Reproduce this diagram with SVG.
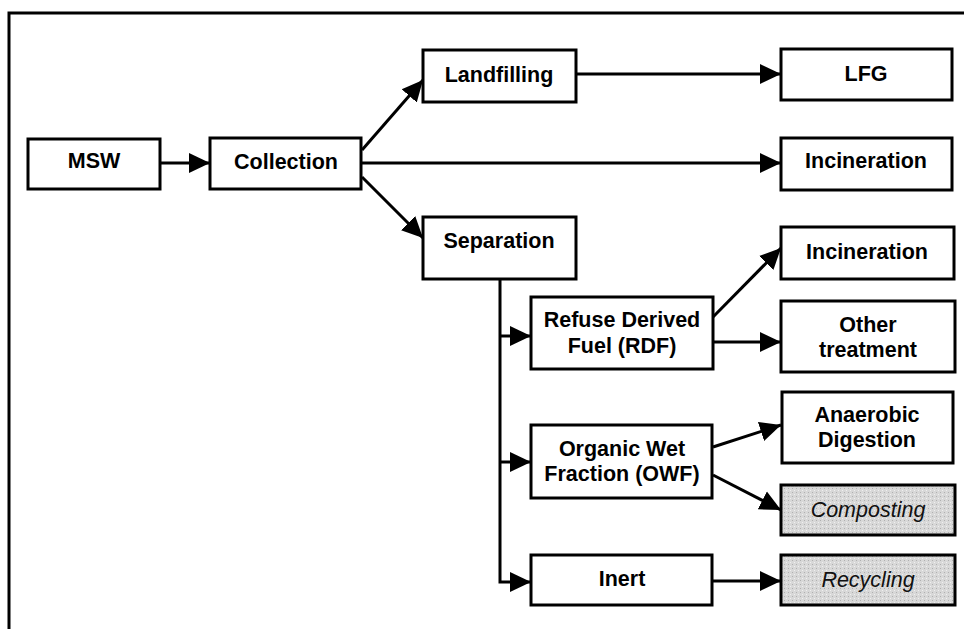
<svg xmlns="http://www.w3.org/2000/svg" width="964" height="629" viewBox="0 0 964 629">
<defs>
<style>
.box{fill:#fff;stroke:#000;stroke-width:3}
.grey{fill:url(#stip);stroke:#000;stroke-width:3}
.t{font-family:"Liberation Sans",Arial,sans-serif;font-size:21.5px;font-weight:bold;text-anchor:middle;fill:#000}
.ti{font-family:"Liberation Sans",Arial,sans-serif;font-size:21.5px;font-style:italic;text-anchor:middle;fill:#111}
.c{fill:none;stroke:#000;stroke-width:3}
.frame{fill:none;stroke:#000;stroke-width:3}
</style>
<marker id="ah" markerUnits="userSpaceOnUse" markerWidth="22" markerHeight="22" refX="21" refY="10" orient="auto" viewBox="0 0 22 20">
<path d="M0,0 L21,10 L0,20 z" fill="#000"/>
</marker>
<pattern id="stip" width="4" height="4" patternUnits="userSpaceOnUse">
<rect width="4" height="4" fill="#d8d8d8"/>
<rect x="0" y="0" width="1" height="1" fill="#b0b0b0"/>
<rect x="2" y="2" width="1" height="1" fill="#f0f0f0"/>
</pattern>
</defs>
<rect width="964" height="629" fill="#fff"/>
<path class="frame" d="M9,629 L9,13 L964,13"/>

<g id="connectors">
<line class="c" x1="160" y1="163" x2="210" y2="163" marker-end="url(#ah)"/>
<line class="c" x1="362" y1="150" x2="423" y2="80" marker-end="url(#ah)"/>
<line class="c" x1="362" y1="163" x2="781" y2="163" marker-end="url(#ah)"/>
<line class="c" x1="362" y1="177" x2="423" y2="238" marker-end="url(#ah)"/>
<line class="c" x1="576" y1="74" x2="781" y2="74" marker-end="url(#ah)"/>
<polyline class="c" points="500,279 500,582 531,582" marker-end="url(#ah)"/>
<line class="c" x1="500" y1="336" x2="531" y2="336" marker-end="url(#ah)"/>
<line class="c" x1="500" y1="462" x2="531" y2="462" marker-end="url(#ah)"/>
<line class="c" x1="713" y1="317" x2="781" y2="248" marker-end="url(#ah)"/>
<line class="c" x1="713" y1="342" x2="781" y2="342" marker-end="url(#ah)"/>
<line class="c" x1="713" y1="447" x2="781" y2="425" marker-end="url(#ah)"/>
<line class="c" x1="713" y1="475" x2="781" y2="510" marker-end="url(#ah)"/>
<line class="c" x1="712" y1="581" x2="781" y2="581" marker-end="url(#ah)"/>
</g>

<g id="msw"><rect class="box" x="28" y="139" width="132" height="50"/><text class="t" x="94" y="168">MSW</text></g>
<g id="collection"><rect class="box" x="210" y="138" width="151" height="51"/><text class="t" x="286" y="169">Collection</text></g>
<g id="landfilling"><rect class="box" x="423" y="50" width="153" height="52"/><text class="t" x="499" y="82">Landfilling</text></g>
<g id="separation"><rect class="box" x="423" y="217" width="153" height="62"/><text class="t" x="499" y="248">Separation</text></g>
<g id="lfg"><rect class="box" x="781" y="49" width="171" height="51"/><text class="t" x="866" y="81">LFG</text></g>
<g id="incineration1"><rect class="box" x="781" y="138" width="171" height="52"/><text class="t" x="866" y="168">Incineration</text></g>
<g id="incineration2"><rect class="box" x="781" y="227" width="173" height="52"/><text class="t" x="867" y="259">Incineration</text></g>
<g id="rdf"><rect class="box" x="531" y="297" width="182" height="72"/><text class="t" x="622" y="327">Refuse Derived</text><text class="t" x="622" y="353">Fuel (RDF)</text></g>
<g id="other"><rect class="box" x="781" y="301" width="174" height="71"/><text class="t" x="868" y="332">Other</text><text class="t" x="868" y="357">treatment</text></g>
<g id="owf"><rect class="box" x="531" y="425" width="181" height="73"/><text class="t" x="622" y="456">Organic Wet</text><text class="t" x="622" y="481">Fraction (OWF)</text></g>
<g id="anaerobic"><rect class="box" x="782" y="392" width="171" height="71"/><text class="t" x="867" y="422">Anaerobic</text><text class="t" x="867" y="447">Digestion</text></g>
<g id="composting"><rect class="grey" x="781" y="485" width="174" height="50"/><text class="ti" x="868" y="517">Composting</text></g>
<g id="inert"><rect class="box" x="531" y="555" width="181" height="50"/><text class="t" x="622" y="586">Inert</text></g>
<g id="recycling"><rect class="grey" x="781" y="555" width="174" height="50"/><text class="ti" x="868" y="587">Recycling</text></g>
</svg>
